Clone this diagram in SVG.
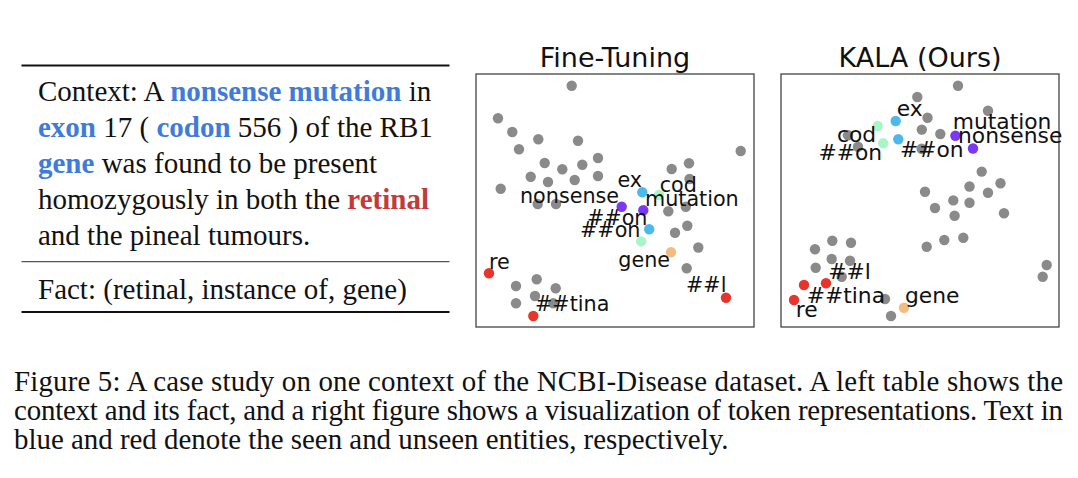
<svg xmlns="http://www.w3.org/2000/svg" width="1078" height="478" viewBox="0 0 1078 478">
<style>
.serif{font-family:"Liberation Serif","Times New Roman",serif;font-size:29px;fill:#111}
.cap{font-family:"Liberation Serif","Times New Roman",serif;font-size:28.9px;fill:#111}
.b{font-weight:bold;fill:#3f7bd9}
.r{font-weight:bold;fill:#c23a3a}
.title{font-family:"DejaVu Sans",sans-serif;font-size:27px;fill:#111;text-anchor:middle}
.lf{font-family:"DejaVu Sans",sans-serif;font-size:20.7px;fill:#111}
.lk{font-family:"DejaVu Sans",sans-serif;font-size:21.8px;fill:#111}
.frame{fill:none;stroke:#444;stroke-width:1.3}
.g{fill:#8a8a8a}
.pu{fill:#7b38f0}
.bl{fill:#4db8ea}
.gr{fill:#a8f5c5}
.or{fill:#f5bb80}
.rd{fill:#e8352b}
.rule{stroke:#111;stroke-width:2}
.mid{stroke:#555;stroke-width:1.2}
</style>
<rect width="1078" height="478" fill="#fff"/>

<g id="table">
<line class="rule" x1="21.5" y1="65.5" x2="449.5" y2="65.5"/>
<text class="serif" x="38" y="101">Context: A <tspan class="b">nonsense mutation</tspan> in</text>
<text class="serif" x="38" y="137"><tspan class="b">exon</tspan> 17 ( <tspan class="b">codon</tspan> 556 ) of the RB1</text>
<text class="serif" x="38" y="173"><tspan class="b">gene</tspan> was found to be present</text>
<text class="serif" x="38" y="209">homozygously in both the <tspan class="r">retinal</tspan></text>
<text class="serif" x="38" y="245">and the pineal tumours.</text>
<line class="mid" x1="21.5" y1="261.7" x2="449.5" y2="261.7"/>
<text class="serif" x="38" y="299">Fact: (retinal, instance of, gene)</text>
<line class="rule" x1="21.5" y1="312" x2="449.5" y2="312"/>
</g>

<g id="plot-finetuning">
<text class="title" x="615" y="67">Fine-Tuning</text>
<rect class="frame" x="476" y="74" width="278" height="253"/>
<g class="g">
<circle cx="571.7" cy="85.7" r="5.2"/><circle cx="498" cy="118.3" r="5.2"/><circle cx="512.3" cy="132" r="5.2"/><circle cx="538.3" cy="139.3" r="5.2"/><circle cx="578" cy="140.7" r="5.2"/><circle cx="519" cy="149.3" r="5.2"/><circle cx="598" cy="158" r="5.2"/><circle cx="544.7" cy="163" r="5.2"/><circle cx="562.3" cy="169.3" r="5.2"/><circle cx="582.3" cy="164.7" r="5.2"/><circle cx="530.7" cy="176.7" r="5.2"/><circle cx="548" cy="182" r="5.2"/><circle cx="574.7" cy="180" r="5.2"/><circle cx="598" cy="176" r="5.2"/><circle cx="500.7" cy="188.8" r="5.2"/><circle cx="537.7" cy="204" r="5.2"/><circle cx="556" cy="204" r="5.2"/>
<circle cx="740.7" cy="151" r="5.2"/><circle cx="671.7" cy="169" r="5.2"/><circle cx="689" cy="163.3" r="5.2"/><circle cx="689.5" cy="179" r="5.2"/><circle cx="668.3" cy="211.3" r="5.2"/><circle cx="685.8" cy="206.7" r="5.2"/><circle cx="675" cy="232.7" r="5.2"/><circle cx="687.3" cy="225.7" r="5.2"/><circle cx="698.3" cy="247.5" r="5.2"/><circle cx="686.7" cy="268.3" r="5.2"/>
<circle cx="536.7" cy="279.3" r="5.2"/><circle cx="516" cy="286" r="5.2"/><circle cx="555.7" cy="288.3" r="5.2"/><circle cx="535" cy="296" r="5.2"/><circle cx="516" cy="303.3" r="5.2"/><circle cx="553.3" cy="303.3" r="5.2"/>
</g>
<circle class="bl" cx="642.3" cy="192.3" r="5.2"/>
<circle class="gr" cx="659" cy="195" r="5.2"/>
<circle class="pu" cx="621.7" cy="206.7" r="5.2"/>
<circle class="pu" cx="643.3" cy="210.3" r="5.2"/>
<circle class="bl" cx="649.2" cy="229.2" r="5.2"/>
<circle class="gr" cx="641.2" cy="241.4" r="5.2"/>
<circle class="or" cx="671" cy="252.2" r="5.2"/>
<circle class="rd" cx="489" cy="273.3" r="5.2"/>
<circle class="rd" cx="726" cy="297.7" r="5.2"/>
<circle class="rd" cx="533.3" cy="316" r="5.2"/>
<text class="lf" x="617.5" y="186.7">ex</text>
<text class="lf" x="659.7" y="192">cod</text>
<text class="lf" x="645" y="206">mutation</text>
<text class="lf" x="520" y="203.3">nonsense</text>
<text class="lf" x="587" y="225">##on</text>
<text class="lf" x="580" y="236.7">##on</text>
<text class="lf" x="618.3" y="267.3">gene</text>
<text class="lf" x="489" y="269.3">re</text>
<text class="lf" x="535" y="311">##tina</text>
<text class="lf" x="686" y="291.7">##l</text>
</g>

<g id="plot-kala">
<text class="title" x="920" y="67">KALA (Ours)</text>
<rect class="frame" x="781" y="74" width="278" height="253"/>
<g class="g">
<circle cx="958" cy="85.7" r="5.2"/><circle cx="917.3" cy="97" r="5.2"/><circle cx="988" cy="110.8" r="5.2"/><circle cx="927.5" cy="117.7" r="5.2"/><circle cx="921.8" cy="129.6" r="5.2"/><circle cx="940.3" cy="134" r="5.2"/><circle cx="848" cy="135.3" r="5.2"/><circle cx="858" cy="146.7" r="5.2"/><circle cx="921.7" cy="148.7" r="5.2"/>
<circle cx="981.7" cy="171.6" r="5.2"/><circle cx="1000.5" cy="183.2" r="5.2"/><circle cx="969.5" cy="186.5" r="5.2"/><circle cx="925" cy="191.7" r="5.2"/><circle cx="988" cy="192.7" r="5.2"/><circle cx="953.3" cy="200.4" r="5.2"/><circle cx="969.5" cy="202.7" r="5.2"/><circle cx="935" cy="208" r="5.2"/><circle cx="1004" cy="213.3" r="5.2"/><circle cx="954.6" cy="215.8" r="5.2"/><circle cx="963.3" cy="237.7" r="5.2"/><circle cx="944.3" cy="240" r="5.2"/><circle cx="926.7" cy="246.7" r="5.2"/>
<circle cx="1046.7" cy="265" r="5.2"/><circle cx="1042.7" cy="276.7" r="5.2"/>
<circle cx="815" cy="249.3" r="5.2"/><circle cx="832.3" cy="240.7" r="5.2"/><circle cx="851" cy="242.7" r="5.2"/><circle cx="815.7" cy="267.7" r="5.2"/><circle cx="831.7" cy="259" r="5.2"/><circle cx="850" cy="260.7" r="5.2"/><circle cx="841.7" cy="276.7" r="5.2"/><circle cx="885" cy="299" r="5.2"/><circle cx="891" cy="316" r="5.2"/>
</g>
<circle class="pu" cx="955.4" cy="135.7" r="5.2"/>
<circle class="pu" cx="973" cy="148.5" r="5.2"/>
<circle class="bl" cx="895.7" cy="121" r="5.2"/>
<circle class="bl" cx="898.3" cy="139.3" r="5.2"/>
<circle class="gr" cx="877.7" cy="126" r="5.2"/>
<circle class="gr" cx="883.3" cy="143.3" r="5.2"/>
<circle class="rd" cx="804" cy="285" r="5.2"/>
<circle class="rd" cx="826" cy="283.3" r="5.2"/>
<circle class="rd" cx="794" cy="300" r="5.2"/>
<circle class="or" cx="904" cy="307.7" r="5.2"/>
<text class="lk" x="896.7" y="116">ex</text>
<text class="lk" x="837" y="141.7">cod</text>
<text class="lk" x="818.5" y="160.3">##on</text>
<text class="lk" x="900" y="156.7">##on</text>
<text class="lk" x="952.7" y="128.8">mutation</text>
<text class="lk" x="958" y="143">nonsense</text>
<text class="lk" x="828.3" y="279">##l</text>
<text class="lk" x="806.7" y="302.7">##tina</text>
<text class="lk" x="795.7" y="317.3">re</text>
<text class="lk" x="905" y="303.3">gene</text>
</g>

<g id="caption">
<text class="cap" x="14" y="391" textLength="1049" lengthAdjust="spacing">Figure 5: A case study on one context of the NCBI-Disease dataset. A left table shows the</text>
<text class="cap" x="14" y="420" textLength="1049" lengthAdjust="spacing">context and its fact, and a right figure shows a visualization of token representations. Text in</text>
<text class="cap" x="14" y="449">blue and red denote the seen and unseen entities, respectively.</text>
</g>
</svg>
